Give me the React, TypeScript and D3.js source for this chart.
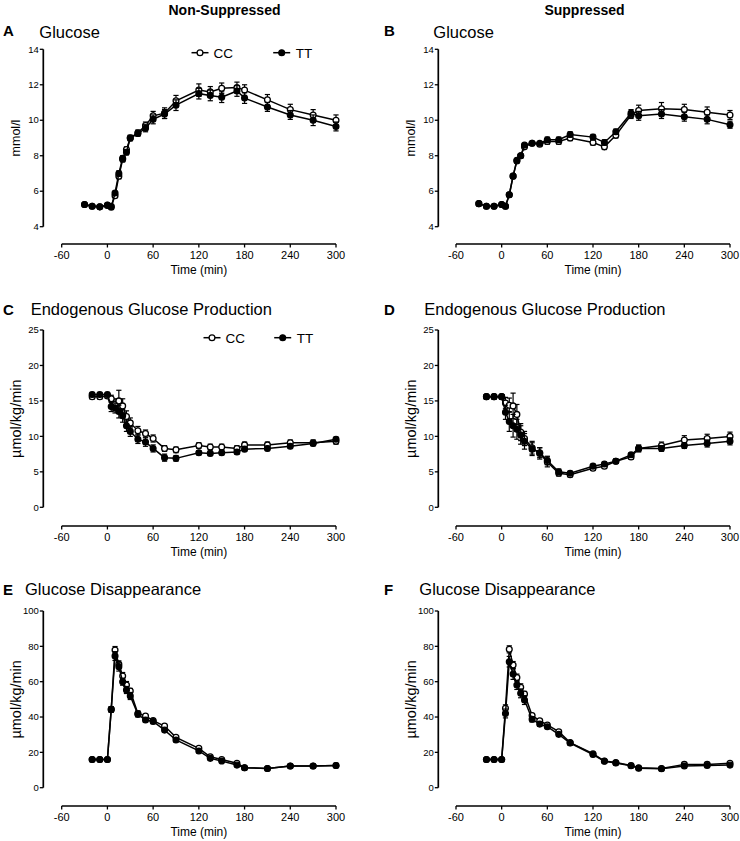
import React from "react";
import * as d3 from "d3";

// ---------- DATA ----------
const GLU_TIMES = [-30, -20, -10, 0, 5, 10, 15, 20, 25, 30, 40, 50, 60, 75, 90, 120, 135, 150, 170, 180, 210, 240, 270, 300];
const FLUX_TIMES = [-20, -10, 0, 5, 10, 15, 20, 25, 30, 40, 50, 60, 75, 90, 120, 135, 150, 170, 180, 210, 240, 270, 300];

// A: Glucose, non-suppressed (mmol/l)
const A_CC = [5.25, 5.15, 5.12, 5.22, 5.15, 5.75, 6.85, 7.8, 8.35, 9.0, 9.3, 9.7, 10.25, 10.4, 11.1, 11.7, 11.6, 11.8, 11.85, 11.7, 11.15, 10.6, 10.3, 10.0];
const A_CC_SE = [0.05, 0.05, 0.05, 0.05, 0.05, 0.1, 0.15, 0.15, 0.15, 0.15, 0.15, 0.2, 0.25, 0.3, 0.3, 0.35, 0.3, 0.3, 0.3, 0.3, 0.3, 0.3, 0.3, 0.3];
const A_TT = [5.25, 5.15, 5.12, 5.2, 5.1, 5.9, 7.0, 7.85, 8.2, 9.0, 9.25, 9.55, 10.05, 10.35, 10.85, 11.5, 11.4, 11.3, 11.65, 11.25, 10.75, 10.3, 10.0, 9.65];
const A_TT_SE = [0.05, 0.05, 0.05, 0.05, 0.05, 0.1, 0.15, 0.15, 0.15, 0.15, 0.15, 0.2, 0.25, 0.25, 0.3, 0.3, 0.3, 0.3, 0.3, 0.3, 0.25, 0.25, 0.3, 0.25];

// B: Glucose, suppressed (mmol/l)
const B_CC = [5.3, 5.15, 5.15, 5.25, 5.15, 5.8, 6.85, 7.7, 8.0, 8.5, 8.7, 8.65, 8.8, 8.8, 9.0, 8.75, 8.5, 9.15, 10.3, 10.55, 10.65, 10.6, 10.45, 10.3];
const B_CC_SE = [0.05, 0.05, 0.05, 0.05, 0.05, 0.1, 0.1, 0.1, 0.1, 0.1, 0.1, 0.1, 0.15, 0.15, 0.15, 0.15, 0.15, 0.15, 0.2, 0.3, 0.35, 0.3, 0.3, 0.25];
const B_TT = [5.3, 5.15, 5.15, 5.25, 5.15, 5.8, 6.85, 7.75, 8.0, 8.6, 8.7, 8.7, 8.9, 8.9, 9.2, 9.05, 8.75, 9.35, 10.4, 10.25, 10.35, 10.2, 10.05, 9.75];
const B_TT_SE = [0.05, 0.05, 0.05, 0.05, 0.05, 0.1, 0.1, 0.1, 0.1, 0.1, 0.1, 0.1, 0.15, 0.15, 0.15, 0.15, 0.15, 0.15, 0.2, 0.25, 0.25, 0.25, 0.25, 0.2];

// C: Endogenous glucose production, non-suppressed (µmol/kg/min)
const C_CC = [15.6, 15.6, 15.7, 15.3, 14.5, 15.0, 14.3, 12.8, 11.9, 10.8, 10.4, 9.7, 8.3, 8.1, 8.7, 8.5, 8.5, 8.3, 8.8, 8.8, 9.1, 9.1, 9.3];
const C_CC_SE = [0.3, 0.3, 0.3, 0.5, 0.8, 1.5, 1.0, 0.8, 0.7, 0.6, 0.5, 0.5, 0.4, 0.4, 0.4, 0.4, 0.4, 0.4, 0.4, 0.4, 0.4, 0.4, 0.4];
const C_TT = [15.9, 15.9, 15.9, 14.2, 14.0, 13.5, 12.9, 11.5, 10.7, 9.6, 9.2, 8.3, 7.0, 6.9, 7.7, 7.6, 7.7, 7.8, 8.2, 8.3, 8.6, 9.0, 9.6];
const C_TT_SE = [0.3, 0.3, 0.3, 0.7, 0.7, 0.9, 0.9, 0.8, 0.7, 0.6, 0.6, 0.5, 0.5, 0.4, 0.3, 0.3, 0.3, 0.3, 0.3, 0.3, 0.3, 0.3, 0.3];

// D: Endogenous glucose production, suppressed (µmol/kg/min)
const D_CC = [15.6, 15.6, 15.6, 14.7, 14.4, 14.3, 13.1, 10.6, 9.7, 8.4, 7.6, 6.4, 4.8, 4.6, 5.5, 5.8, 6.5, 7.1, 8.3, 8.7, 9.5, 9.7, 10.0];
const D_CC_SE = [0.3, 0.3, 0.3, 0.8, 1.0, 1.8, 1.4, 1.2, 1.0, 0.9, 0.8, 0.7, 0.4, 0.3, 0.3, 0.3, 0.3, 0.3, 0.5, 0.5, 0.6, 0.6, 0.6];
const D_TT = [15.6, 15.6, 15.6, 13.4, 12.1, 11.5, 11.0, 10.2, 9.3, 8.2, 7.7, 6.6, 5.0, 4.8, 5.8, 6.1, 6.5, 7.4, 8.3, 8.3, 8.7, 9.0, 9.3];
const D_TT_SE = [0.3, 0.3, 0.3, 1.0, 1.4, 1.6, 1.4, 1.3, 1.1, 0.9, 0.7, 0.6, 0.4, 0.3, 0.3, 0.3, 0.3, 0.3, 0.4, 0.4, 0.4, 0.5, 0.5];

// E: Glucose disappearance, non-suppressed (µmol/kg/min)
const E_CC = [16, 16, 16, 44.3, 77.9, 69.8, 63.2, 58.1, 54.7, 42.0, 40.6, 38.0, 34.9, 28.5, 22.3, 17.5, 16.0, 13.8, 11.3, 10.9, 12.3, 12.3, 12.6];
const E_CC_SE = [0.5, 0.5, 0.5, 1.5, 2.0, 2.0, 2.0, 2.0, 1.5, 1.5, 1.0, 1.0, 1.0, 1.0, 0.8, 0.8, 0.6, 0.6, 0.5, 0.5, 0.5, 0.5, 0.5];
const E_TT = [16, 16, 16, 44.3, 74.5, 68.5, 60.0, 55.3, 51.9, 41.5, 38.3, 37.5, 32.6, 27.0, 20.8, 16.6, 15.1, 12.8, 11.3, 10.9, 12.3, 12.3, 12.6];
const E_TT_SE = [0.5, 0.5, 0.5, 1.5, 2.5, 2.5, 2.0, 2.0, 2.0, 1.5, 1.2, 1.2, 1.0, 1.0, 0.8, 0.8, 0.6, 0.6, 0.5, 0.5, 0.5, 0.5, 0.5];

// F: Glucose disappearance, suppressed (µmol/kg/min)
const F_CC = [16, 16, 16, 44.9, 78.3, 69.4, 62.3, 56.8, 53.0, 40.8, 37.9, 35.5, 31.7, 25.5, 19.2, 15.1, 14.2, 12.6, 11.3, 10.9, 13.2, 13.2, 13.8];
const F_CC_SE = [0.5, 0.5, 0.5, 2.0, 2.0, 2.0, 2.0, 2.0, 1.5, 1.2, 1.0, 1.0, 1.0, 0.8, 0.8, 0.6, 0.6, 0.5, 0.5, 0.5, 0.5, 0.5, 0.5];
const F_TT = [16, 16, 16, 42.0, 71.3, 64.3, 58.1, 53.4, 49.6, 38.7, 36.0, 34.5, 30.2, 25.3, 18.8, 15.0, 14.0, 12.4, 11.0, 10.7, 12.3, 12.6, 12.8];
const F_TT_SE = [0.5, 0.5, 0.5, 2.5, 3.0, 3.0, 2.5, 2.5, 2.5, 1.5, 1.2, 1.0, 1.0, 0.8, 0.8, 0.6, 0.6, 0.5, 0.5, 0.5, 0.5, 0.5, 0.5];

const X_TICKS = [-60, 0, 60, 120, 180, 240, 300];
const GLU_TICKS = [4, 6, 8, 10, 12, 14];
const EGP_TICKS = [0, 5, 10, 15, 20, 25];
const GD_TICKS = [0, 20, 40, 60, 80, 100];
const COLUMN_HEADERS = ["Non-Suppressed", "Suppressed"];
const SERIES_NAMES = ["CC", "TT"];

// ---------- LAYOUT ----------
const W = 740;
const H = 841;
const FONT = "'Liberation Sans', Arial, Helvetica, sans-serif";
const COLS = [
  { yAxisX: 43.3, xRange: [61.7, 336], header: 224.5, letterX: 3, yLabelX: 16 },
  { yAxisX: 438.3, xRange: [456, 730], header: 584.5, letterX: 384, yLabelX: 411 },
];
const ROWS = [
  { top: 49.3, bottom: 226.7, xAxisY: 244, titleY: 38, letterY: 36 },
  { top: 330, bottom: 507.3, xAxisY: 526, titleY: 315, letterY: 315 },
  { top: 611, bottom: 787.7, xAxisY: 806, titleY: 595, letterY: 595 },
];

type Panel = {
  letter: string;
  title: string;
  titleX: number;
  col: number;
  row: number;
  times: number[];
  cc: number[];
  ccSe: number[];
  tt: number[];
  ttSe: number[];
  yDomain: [number, number];
  yTicks: number[];
  yLabel: string;
  legend?: { ccX: number; ttX: number; y: number };
};

const PANELS: Panel[] = [
  { letter: "A", title: "Glucose", titleX: 39.3, col: 0, row: 0, times: GLU_TIMES, cc: A_CC, ccSe: A_CC_SE, tt: A_TT, ttSe: A_TT_SE, yDomain: [4, 14], yTicks: GLU_TICKS, yLabel: "mmol/l", legend: { ccX: 200, ttX: 281.7, y: 52.7 } },
  { letter: "B", title: "Glucose", titleX: 433.3, col: 1, row: 0, times: GLU_TIMES, cc: B_CC, ccSe: B_CC_SE, tt: B_TT, ttSe: B_TT_SE, yDomain: [4, 14], yTicks: GLU_TICKS, yLabel: "mmol/l" },
  { letter: "C", title: "Endogenous Glucose Production", titleX: 30.7, col: 0, row: 1, times: FLUX_TIMES, cc: C_CC, ccSe: C_CC_SE, tt: C_TT, ttSe: C_TT_SE, yDomain: [0, 25], yTicks: EGP_TICKS, yLabel: "µmol/kg/min", legend: { ccX: 212, ttX: 282.7, y: 337.7 } },
  { letter: "D", title: "Endogenous Glucose Production", titleX: 424.3, col: 1, row: 1, times: FLUX_TIMES, cc: D_CC, ccSe: D_CC_SE, tt: D_TT, ttSe: D_TT_SE, yDomain: [0, 25], yTicks: EGP_TICKS, yLabel: "µmol/kg/min" },
  { letter: "E", title: "Glucose Disappearance", titleX: 25, col: 0, row: 2, times: FLUX_TIMES, cc: E_CC, ccSe: E_CC_SE, tt: E_TT, ttSe: E_TT_SE, yDomain: [0, 100], yTicks: GD_TICKS, yLabel: "µmol/kg/min" },
  { letter: "F", title: "Glucose Disappearance", titleX: 419.3, col: 1, row: 2, times: FLUX_TIMES, cc: F_CC, ccSe: F_CC_SE, tt: F_TT, ttSe: F_TT_SE, yDomain: [0, 100], yTicks: GD_TICKS, yLabel: "µmol/kg/min" },
];

const R = 2.9;
const CAP = 2.6;

function Series({ times, vals, se, x, y, filled }: { times: number[]; vals: number[]; se: number[]; x: d3.ScaleLinear<number, number>; y: d3.ScaleLinear<number, number>; filled: boolean }) {
  const line = d3
    .line<number>()
    .x((_, i) => x(times[i]))
    .y((v) => y(v));
  return (
    <g>
      {vals.map((v, i) => {
        const cx = x(times[i]);
        const y1 = y(v + se[i]);
        const y2 = y(v - se[i]);
        return (
          <g key={"e" + i} stroke="#000" strokeWidth={1.2}>
            <line x1={cx} x2={cx} y1={y1} y2={y2} />
            <line x1={cx - CAP} x2={cx + CAP} y1={y1} y2={y1} />
            <line x1={cx - CAP} x2={cx + CAP} y1={y2} y2={y2} />
          </g>
        );
      })}
      <path d={line(vals) || ""} fill="none" stroke="#000" strokeWidth={1.5} />
      {vals.map((v, i) => (
        <circle key={"c" + i} cx={x(times[i])} cy={y(v)} r={R} fill={filled ? "#000" : "#fff"} stroke="#000" strokeWidth={1.3} />
      ))}
    </g>
  );
}

function PanelView({ p }: { p: Panel }) {
  const c = COLS[p.col];
  const r = ROWS[p.row];
  const x = d3.scaleLinear().domain([-60, 300]).range(c.xRange);
  const y = d3.scaleLinear().domain(p.yDomain).range([r.bottom, r.top]);
  const yMid = (r.top + r.bottom) / 2;
  const xMid = (c.xRange[0] + c.xRange[1]) / 2;
  const isMicro = p.yLabel !== "mmol/l";
  return (
    <g fontFamily={FONT} fill="#000">
      <text x={c.letterX} y={r.letterY} fontSize={15} fontWeight="bold">{p.letter}</text>
      <text x={p.titleX} y={r.titleY} fontSize={16.5}>{p.title}</text>
      {/* y axis */}
      <line x1={c.yAxisX} x2={c.yAxisX} y1={r.top} y2={r.bottom} stroke="#000" strokeWidth={1.7} />
      {p.yTicks.map((t) => (
        <g key={"yt" + t}>
          <line x1={c.yAxisX - 3.5} x2={c.yAxisX} y1={y(t)} y2={y(t)} stroke="#000" strokeWidth={1.3} />
          <text x={c.yAxisX - 4.5} y={y(t) + 3.2} fontSize={9.5} textAnchor="end">{t}</text>
        </g>
      ))}
      <text
        transform={`translate(${c.yLabelX},${yMid}) rotate(-90)`}
        fontSize={isMicro ? 14.5 : 12.5}
        textAnchor="middle"
        dy="0.35em"
      >
        {p.yLabel}
      </text>
      {/* x axis */}
      <line x1={c.xRange[0]} x2={c.xRange[1]} y1={r.xAxisY} y2={r.xAxisY} stroke="#000" strokeWidth={1.7} />
      {X_TICKS.map((t) => (
        <g key={"xt" + t}>
          <line x1={x(t)} x2={x(t)} y1={r.xAxisY} y2={r.xAxisY + 3.5} stroke="#000" strokeWidth={1.3} />
          <text x={x(t)} y={r.xAxisY + 14.8} fontSize={11} textAnchor="middle">{t}</text>
        </g>
      ))}
      <text x={xMid} y={r.xAxisY + 29.5} fontSize={12} textAnchor="middle">Time (min)</text>
      {/* data */}
      <Series times={p.times} vals={p.cc} se={p.ccSe} x={x} y={y} filled={false} />
      <Series times={p.times} vals={p.tt} se={p.ttSe} x={x} y={y} filled={true} />
      {p.legend && (
        <g>
          <line x1={p.legend.ccX - 8.5} x2={p.legend.ccX + 8.5} y1={p.legend.y} y2={p.legend.y} stroke="#000" strokeWidth={1.5} />
          <circle cx={p.legend.ccX} cy={p.legend.y} r={R} fill="#fff" stroke="#000" strokeWidth={1.3} />
          <text x={p.legend.ccX + 13.5} y={p.legend.y + 4.8} fontSize={13.5}>{SERIES_NAMES[0]}</text>
          <line x1={p.legend.ttX - 8.5} x2={p.legend.ttX + 8.5} y1={p.legend.y} y2={p.legend.y} stroke="#000" strokeWidth={1.5} />
          <circle cx={p.legend.ttX} cy={p.legend.y} r={R} fill="#000" stroke="#000" strokeWidth={1.3} />
          <text x={p.legend.ttX + 14} y={p.legend.y + 4.8} fontSize={13.5}>{SERIES_NAMES[1]}</text>
        </g>
      )}
    </g>
  );
}

export default function App() {
  return (
    <div style={{ position: "absolute", left: 0, top: 0, width: W, height: H, background: "#fff" }}>
      <svg width={W} height={H} viewBox={`0 0 ${W} ${H}`} style={{ display: "block" }}>
        <rect x={0} y={0} width={W} height={H} fill="#fff" />
        {COLUMN_HEADERS.map((h, i) => (
          <text key={h} x={COLS[i].header} y={15} fontFamily={FONT} fontSize={14} fontWeight="bold" textAnchor="middle">
            {h}
          </text>
        ))}
        {PANELS.map((p) => (
          <PanelView key={p.letter} p={p} />
        ))}
      </svg>
    </div>
  );
}
